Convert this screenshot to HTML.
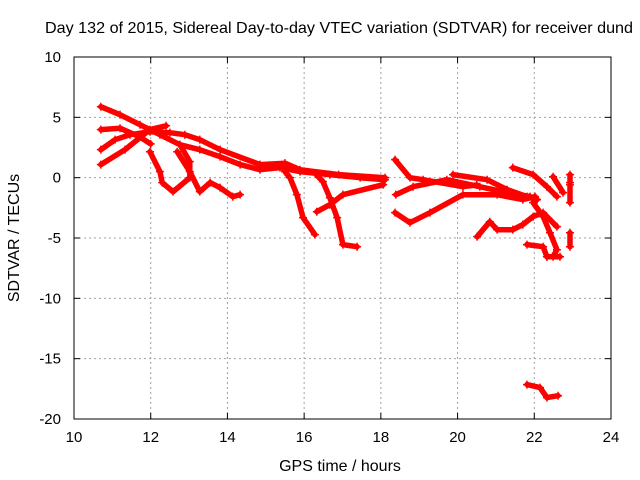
<!DOCTYPE html>
<html><head><meta charset="utf-8"><style>
body{margin:0;background:#fff;}
svg{display:block;font-family:"Liberation Sans",sans-serif;}
</style></head><body>
<svg id="chart" width="640" height="480" viewBox="0 0 640 480">
<rect width="640" height="480" fill="#fff"/>
<text x="45" y="33" font-size="16" textLength="588" lengthAdjust="spacingAndGlyphs">Day 132 of 2015, Sidereal Day-to-day VTEC variation (SDTVAR) for receiver dund</text>
<text x="340" y="471" font-size="16" text-anchor="middle">GPS time / hours</text>
<text transform="translate(19,238) rotate(-90)" font-size="16" text-anchor="middle">SDTVAR / TECUs</text>
<g id="grid"></g><g id="ticks"></g><g id="marks"></g>
<rect x="74" y="57" width="537" height="362" fill="none" stroke="#000" stroke-width="1"/>
</svg>
<script>
const xTicks=[10,12,14,16,18,20,22,24];
const yTicks=[10,5,0,-5,-10,-15,-20];
const t1=[[10.70,5.88],[11.20,5.22],[11.72,4.39],[12.24,3.56],[12.76,2.73],[13.28,2.32],[13.81,1.74],[14.33,1.08],[14.85,0.66],[15.37,0.83],[15.89,0.50],[16.67,0.25],[17.46,0],[18.11,-0.17]];
const t2=[[10.70,2.32],[11.07,3.15],[11.46,3.56],[11.98,3.81],[12.50,3.73],[12.89,3.56],[13.28,3.15],[13.81,2.32],[14.85,1.08],[15.5,1.2],[15.89,0.66],[16.9,0.25],[18.11,0]];
const t3=[[10.70,1.08],[11.33,2.32],[11.98,3.98],[12.4,4.3]];
const t3b=[[10.70,3.98],[11.2,4.1],[11.7,3.4],[12.0,2.8]];
const t4=[[11.98,2.15],[12.24,0.50],[12.30,-0.41],[12.58,-1.16],[13.02,0],[13.02,1.33],[12.76,2.73]];
const t5=[[12.69,2.15],[13.02,0.50],[13.28,-1.16],[13.55,-0.41],[13.81,-0.83],[14.14,-1.57],[14.33,-1.41]];
const t6=[[15.50,0.5],[15.63,0],[15.81,-1.41],[15.97,-3.31],[16.28,-4.72]];
const t7=[[16.3,0.3],[16.49,-0.33],[16.67,-1.66],[16.86,-3.31],[17.01,-5.55],[17.38,-5.72]];
const t8=[[16.33,-2.82],[16.67,-2.24],[17.01,-1.41],[18.06,-0.58]];
const tE=[[18.37,1.49],[18.76,0],[19.10,-0.17],[20.14,-0.75],[20.5,-0.6]];
const tF=[[18.39,-1.41],[18.84,-0.75],[19.72,-0.17],[20.58,-0.75],[21.29,-1.24],[21.89,-1.57],[22.07,-1.82]];
const tG=[[18.37,-2.90],[18.76,-3.73],[19.28,-2.90],[20.14,-1.41],[21.03,-1.41],[21.70,-1.82],[22.02,-1.57]];
const tH=[[19.88,0.25],[20.77,-0.17],[21.29,-0.99],[21.81,-1.57],[22.07,-1.82]];
const tI=[[21.44,0.83],[21.97,0.25],[22.33,-0.75],[22.59,-1.57]];
const tJ=[[22.49,0.08],[22.75,-1.24]];
const tK=[[21.97,-2.07],[22.23,-3.23],[22.41,-4.56],[22.59,-5.97],[22.49,-6.55],[22.33,-6.55]];
const tL=[[20.51,-4.89],[20.84,-3.65],[21.03,-4.31],[21.44,-4.31],[21.70,-3.89],[21.97,-3.23],[22.23,-2.90],[22.59,-4.06]];
const tM=[[21.81,-5.55],[22.23,-5.72],[22.33,-6.55],[22.67,-6.55]];
const tN=[[22.93,0.25],[22.93,-0.41]];
const tN2=[[22.93,-0.6],[22.93,-2.07]];
const tO=[[22.93,-4.56],[22.93,-5.72]];
const tP=[[21.81,-17.15],[22.15,-17.40],[22.33,-18.23],[22.62,-18.07]];
const series=[t1,t2,t3,t3b,t4,t5,t6,t7,t8,tE,tF,tG,tH,tI,tJ,tK,tL,tM,tN,tN2,tO,tP];

const NS='http://www.w3.org/2000/svg';
const X0=74,X1=611,Y0=419,Y1=57;
function sx(h){return X0+(h-10)/(24-10)*(X1-X0);}
function sy(v){return Y0-(v+20)/30*(Y0-Y1);}
function mk(tag,attrs,parent){const e=document.createElementNS(NS,tag);for(const k in attrs)e.setAttribute(k,attrs[k]);parent.appendChild(e);return e;}
const grid=document.getElementById('grid'),ticks=document.getElementById('ticks'),marks=document.getElementById('marks');
xTicks.forEach(t=>{const x=sx(t);
 if(t>10&&t<24){const g=mk('line',{x1:x,x2:x,y1:Y1,y2:Y0,stroke:'#a0a0a0','stroke-dasharray':'2,3'},grid);
 
 }
 mk('line',{x1:x,x2:x,y1:Y0,y2:Y0-6,stroke:'#000'},ticks);
 mk('line',{x1:x,x2:x,y1:Y1,y2:Y1+6,stroke:'#000'},ticks);
 const tx=mk('text',{x:x,y:Y0+23,'font-size':15,'text-anchor':'middle'},ticks);tx.textContent=t;
 
 
});
yTicks.forEach(t=>{const y=sy(t);
 if(t>-20&&t<10){const g=mk('line',{x1:X0,x2:X1,y1:y,y2:y,stroke:'#a0a0a0','stroke-dasharray':'2,3'},grid);
 
 }
 mk('line',{x1:X0,x2:X0+6,y1:y,y2:y,stroke:'#000'},ticks);
 mk('line',{x1:X1,x2:X1-6,y1:y,y2:y,stroke:'#000'},ticks);
 const tx=mk('text',{x:X0-13,y:y+5,'font-size':15,'text-anchor':'end'},ticks);tx.textContent=t;
 
 
});
series.forEach((s,i)=>{
 const pts=s.map(p=>sx(p[0]).toFixed(1)+','+sy(p[1]).toFixed(1)).join(' ');
 const pl=mk('polyline',{points:pts,fill:'none',stroke:'#ff0000','stroke-width':5.5,'stroke-linejoin':'round','stroke-linecap':'round'},marks);
 
 
 s.forEach(p=>{const x=sx(p[0]),y=sy(p[1]);
  const m=mk('path',{d:`M${x-4},${y}H${x+4}M${x},${y-4}V${y+4}`,stroke:'#ff0000','stroke-width':1.5},marks);
  
  
 });
});
</script>
</body></html>
